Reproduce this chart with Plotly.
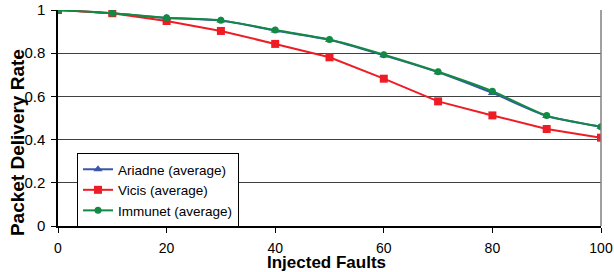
import plotly.graph_objects as go

faults = [0, 10, 20, 30, 40, 50, 60, 70, 80, 90, 100]
ariadne = [1.0, 0.985, 0.963, 0.951, 0.905, 0.862, 0.790, 0.712, 0.616, 0.509, 0.459]
vicis = [1.0, 0.985, 0.949, 0.903, 0.843, 0.781, 0.682, 0.577, 0.512, 0.449, 0.409]
immunet = [1.0, 0.985, 0.964, 0.952, 0.907, 0.863, 0.793, 0.714, 0.624, 0.511, 0.460]
x_ticks = [0, 20, 40, 60, 80, 100]
y_ticks = [0, 0.2, 0.4, 0.6, 0.8, 1]
y_tick_labels = ["0", "0.2", "0.4", "0.6", "0.8", "1"]

fig = go.Figure()
fig.add_trace(go.Scatter(x=faults, y=ariadne, name="Ariadne (average)", mode="lines+markers",
                         line=dict(color="#3A56A8", width=2, shape="spline", smoothing=0.6),
                         marker=dict(symbol="triangle-up", size=8, color="#3A56A8")))
fig.add_trace(go.Scatter(x=faults, y=vicis, name="Vicis (average)", mode="lines+markers",
                         line=dict(color="#EE1C25", width=2),
                         marker=dict(symbol="square", size=8, color="#EE1C25")))
fig.add_trace(go.Scatter(x=faults, y=immunet, name="Immunet (average)", mode="lines+markers",
                         line=dict(color="#138A43", width=2, shape="spline", smoothing=0.6),
                         marker=dict(symbol="circle", size=7, color="#138A43")))

fig.update_layout(
    width=614, height=272,
    margin=dict(l=58, r=13, t=10, b=46, autoexpand=False),
    plot_bgcolor="white", paper_bgcolor="white",
    font=dict(family="Liberation Sans, Arial", size=13, color="black"),
    legend=dict(x=0.035, y=0.338, xanchor="left", yanchor="top",
                bordercolor="black", borderwidth=1, bgcolor="white",
                font=dict(size=13.5), itemwidth=30),
    showlegend=True,
    annotations=[
        dict(text="<b>Packet Delivery Rate</b>", xref="paper", yref="paper",
             x=-0.0755, y=0.384, xanchor="center", yanchor="middle",
             textangle=-90, showarrow=False, font=dict(size=19)),
        dict(text="<b>Injected Faults</b>", xref="paper", yref="paper",
             x=0.494, y=-0.168, xanchor="center", yanchor="middle",
             showarrow=False, font=dict(size=17)),
    ],
)
fig.update_xaxes(range=[0, 100], tickvals=x_ticks, showgrid=False, automargin=False,
                 showline=True, linecolor="black", linewidth=1.5,
                 ticks="outside", ticklen=5, tickcolor="black",
                 tickfont=dict(size=14), ticklabelstandoff=3,
                 zeroline=False)
fig.update_yaxes(range=[0, 1], tickvals=y_ticks, ticktext=y_tick_labels, automargin=False,
                 showgrid=True, gridcolor="#404040", gridwidth=1,
                 showline=True, linecolor="black", linewidth=1.5,
                 ticks="outside", ticklen=5, tickcolor="black",
                 tickfont=dict(size=15), ticklabelstandoff=3,
                 zeroline=False)
fig.add_shape(type="line", xref="paper", yref="paper", x0=1, x1=1, y0=0, y1=1,
              line=dict(color="#808080", width=1.5))
fig.write_html("out.html", config={"displayModeBar": False},
               post_script="document.body.style.margin='0';")
